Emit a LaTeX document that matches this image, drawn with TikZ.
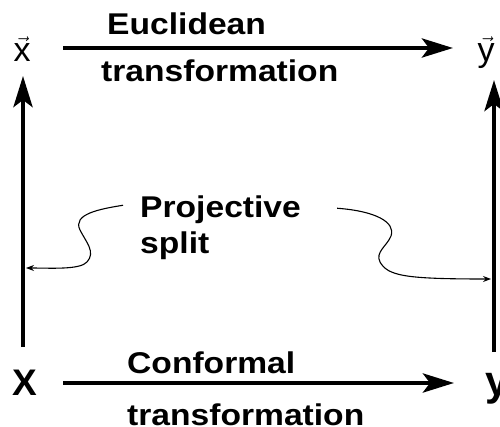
\documentclass[tikz,border=0pt]{standalone}
\usepackage{fontspec}
\setmainfont{Liberation Sans}
\usetikzlibrary{arrows.meta}
\tikzset{bigarrow/.style={line width=4.5pt,-{Stealth[length=31pt,width=19pt,inset=7pt]}},
  wiggle/.style={line width=1.1pt,-{Stealth[length=8pt,width=6pt]}},
  lbl/.style={anchor=base west,inner sep=0pt,xscale=1.12,font=\fontsize{30}{34}\bfseries\selectfont},
  vecl/.style={anchor=base,inner sep=0pt,font=\fontsize{34}{38}\selectfont}}

\begin{document}
\begin{tikzpicture}[x=1pt,y=-1pt]
  \useasboundingbox (0,0) rectangle (500,427);
  % corner letters
  \node [vecl] (xvec) at (22,62) {$\vec{\hbox{x}}$};
  \node [vecl] (yvec) at (486,62) {$\vec{\hbox{y}}$};
  \node [anchor=base,inner sep=0pt,font=\fontsize{37}{40}\bfseries\selectfont] (X) at (25,395) {X};
  \node [anchor=base west,inner sep=0pt,font=\fontsize{42}{46}\bfseries\selectfont] (Y) at (485,395) {y};
  % labels
  \node [lbl] (euclid) at (107,35) {Euclidean};
  \node [lbl] (euclidt) at (101,82) {transformation};
  \node [lbl] (conf) at (127,373) {Conformal};
  \node [lbl] (conft) at (127,425) {transformation};
  \node [lbl] (proj) at (140,218) {Projective};
  \node [lbl] (split) at (140,254) {split};
  % arrow ends
  \coordinate (ta) at (63,48);  \coordinate (tb) at (453,48);
  \coordinate (ba) at (63,383); \coordinate (bb) at (454,383);
  \coordinate (la) at (23,347); \coordinate (lb) at (23,76);
  \coordinate (ra) at (494,352); \coordinate (rb) at (494,80);
  \draw [bigarrow] (ta) -- (tb);
  \draw [bigarrow] (ba) -- (bb);
  \draw [bigarrow] (la) -- (lb);
  \draw [bigarrow] (ra) -- (rb);
  % projective split
  \draw [wiggle] (proj.west) ++(-17,-5) .. controls (100,209) and (72,214) .. (80,230)
     .. controls (86,242) and (96,252) .. (87,262) .. controls (80,270) and (50,268) .. (26,268);
  \draw [wiggle] (proj.east) ++(36,-2) .. controls (375,211) and (396,222) .. (391,236)
     .. controls (387,246) and (375,252) .. (380,262) .. controls (388,276) and (405,279) .. (491,279);
\end{tikzpicture}
\end{document}
